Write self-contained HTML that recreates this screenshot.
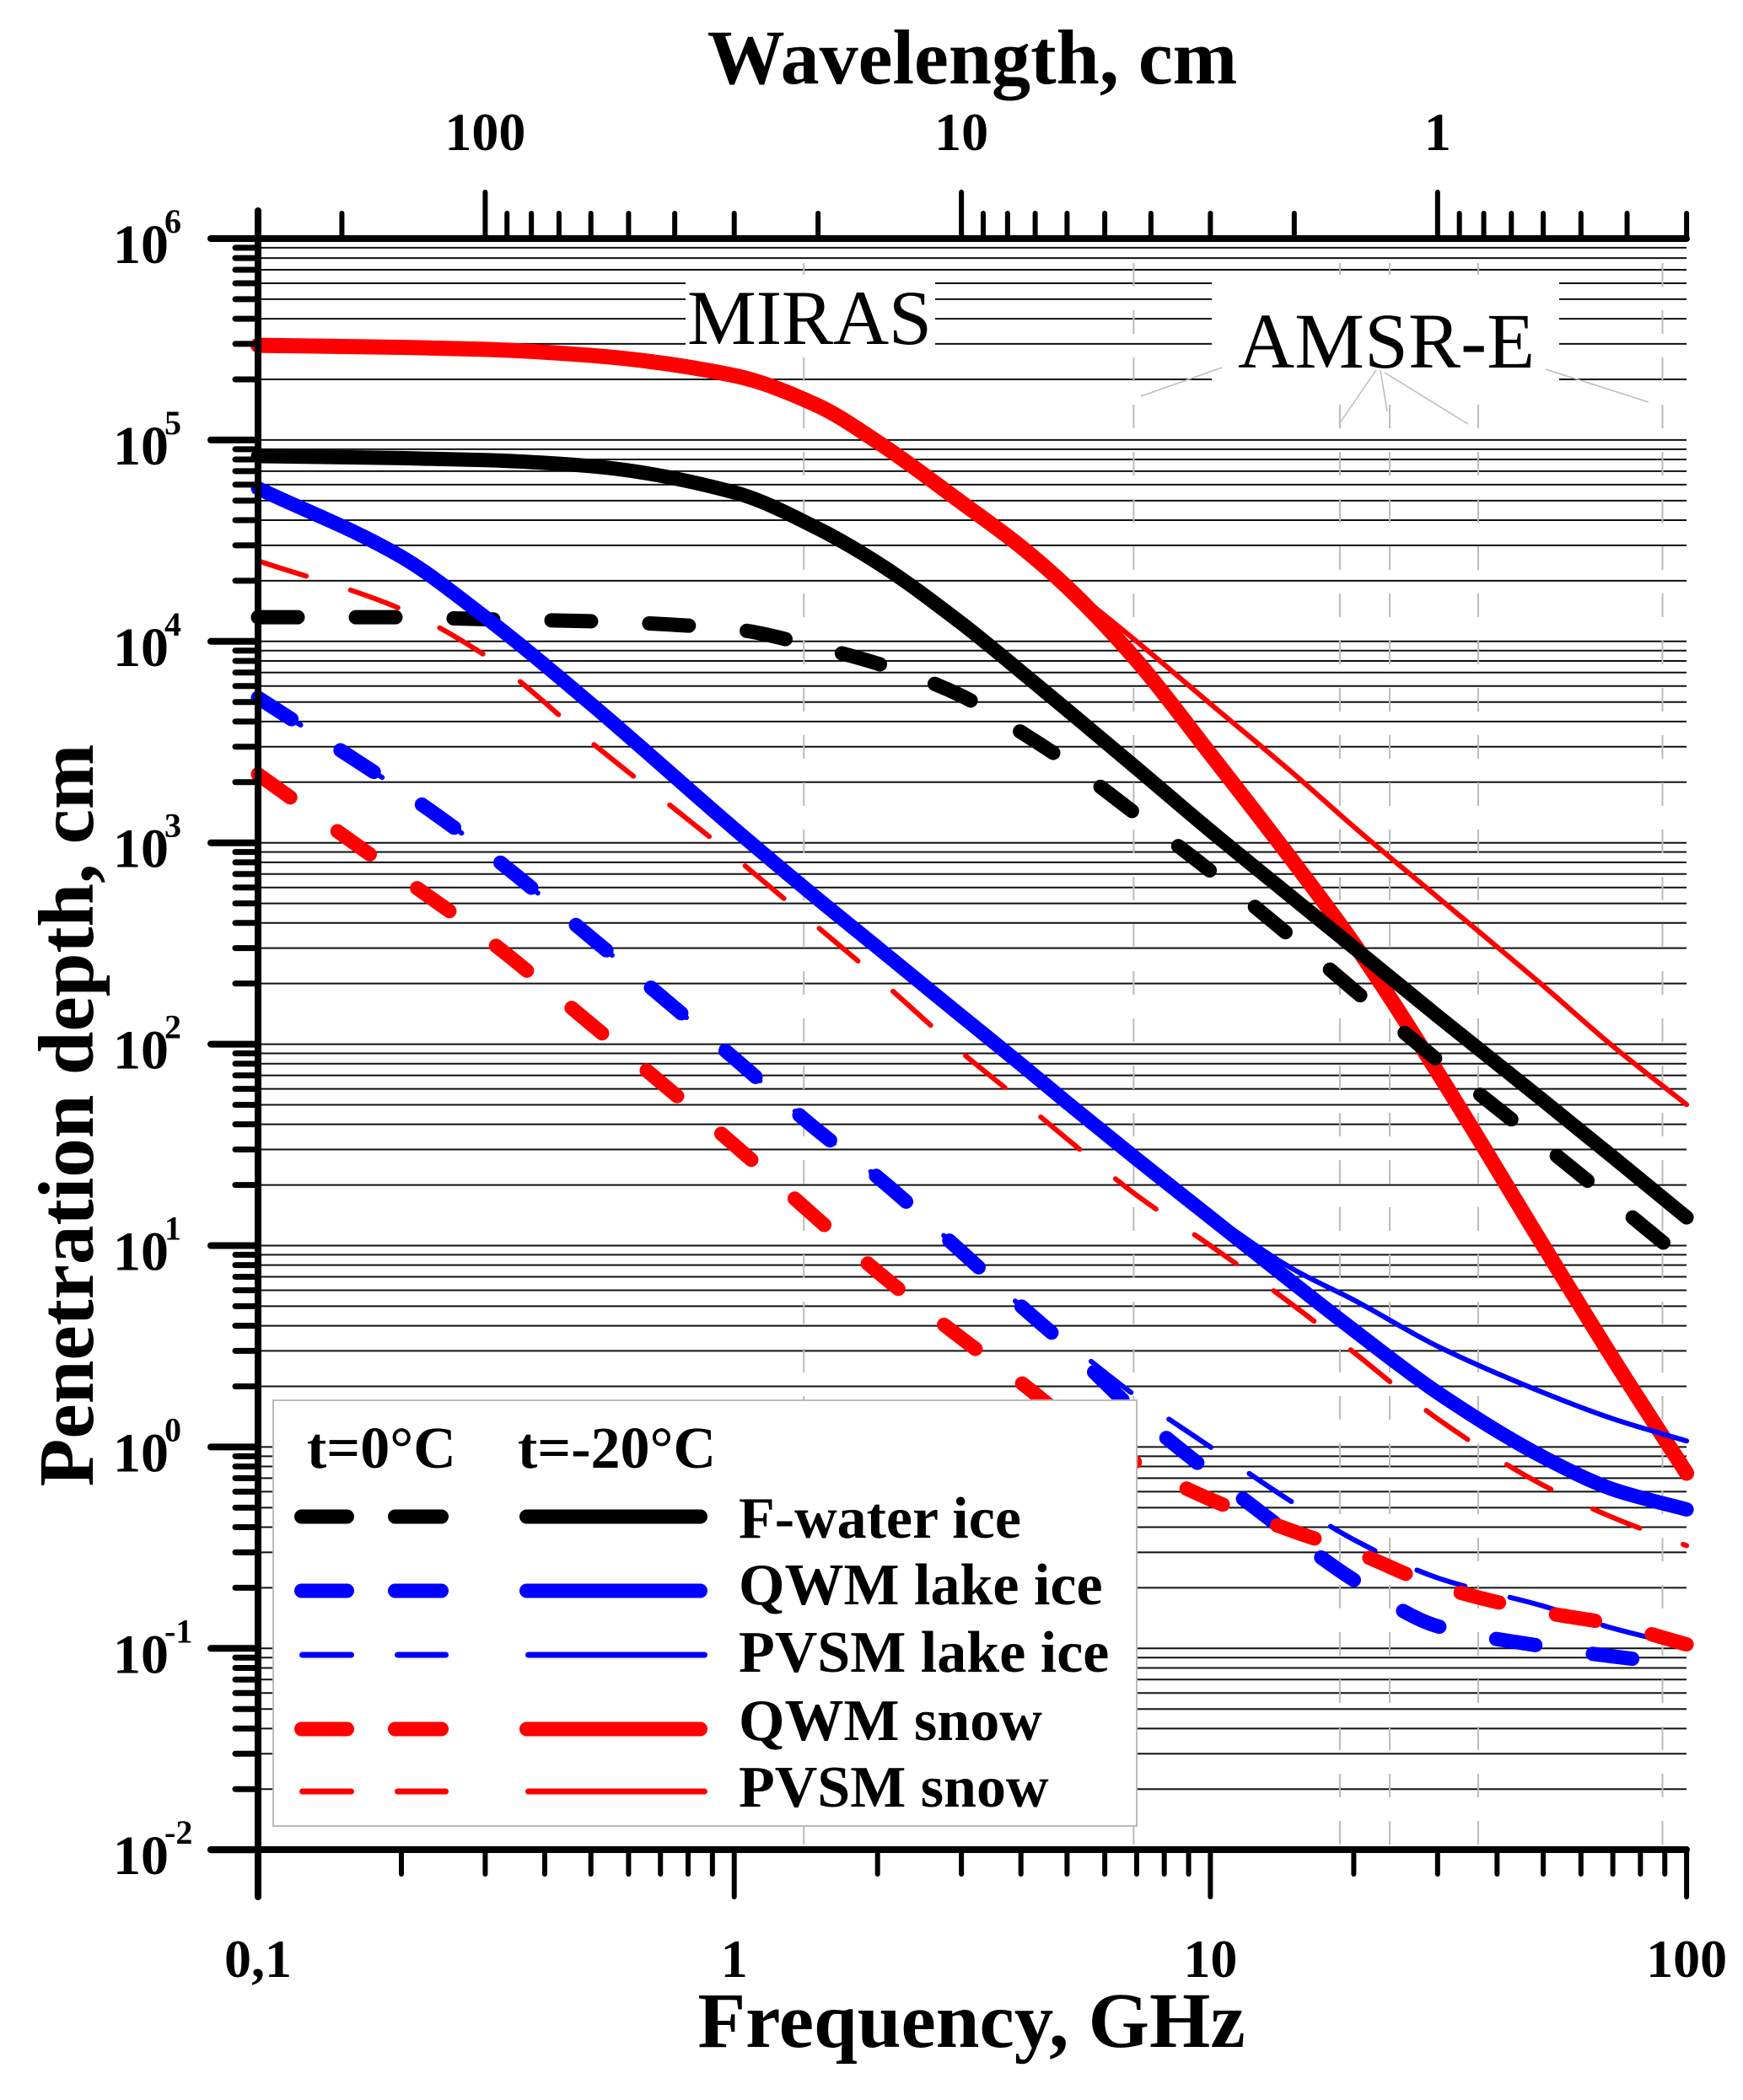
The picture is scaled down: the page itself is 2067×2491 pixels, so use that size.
<!DOCTYPE html>
<html><head><meta charset="utf-8"><style>
html,body{margin:0;padding:0;background:#fff;}
svg{display:block;}
text{font-family:"Liberation Serif","Times New Roman",serif;}
</style></head><body>
<svg id="chart" xmlns="http://www.w3.org/2000/svg" width="2067" height="2491" viewBox="0 0 2067 2491">
<g id="grid"></g>
<g id="series"></g>
<g id="axes"></g>
<g id="labels"></g>
</svg>
<script>
// ---- data (frequency GHz, penetration depth as log10 cm) ----
const freqs = [0.1,0.2,0.3,0.5,1,1.5,2,3,4,5,7,10,15,20,30,50,70,100];
const fwaterIce20 = [4.92,4.91,4.90,4.87,4.74,4.56,4.39,4.09,3.85,3.66,3.37,3.06,2.72,2.48,2.14,1.72,1.44,1.14];
const fwaterIce0  = [4.12,4.12,4.11,4.10,4.06,3.97,3.89,3.73,3.55,3.40,3.14,2.86,2.52,2.27,1.92,1.50,1.22,0.92];
const qwmLake20   = [4.76,4.42,4.12,3.69,3.07,2.72,2.48,2.14,1.90,1.71,1.43,1.14,0.81,0.58,0.27,-0.05,-0.21,-0.31];
const pvsmLake20  = [4.76,4.42,4.12,3.69,3.07,2.72,2.48,2.14,1.90,1.71,1.43,1.16,0.88,0.73,0.50,0.27,0.14,0.03];
const qwmSnow20   = [5.47,5.46,5.45,5.42,5.32,5.17,4.99,4.69,4.47,4.27,3.905,3.44,2.90,2.50,1.86,1.00,0.44,-0.13];
const pvsmSnow20  = [5.47,5.46,5.45,5.42,5.32,5.17,4.99,4.69,4.47,4.28,4.00,3.69,3.34,3.08,2.73,2.29,1.99,1.70];
const qwmLake0    = [3.72,3.26,2.96,2.53,1.93,1.57,1.34,0.97,0.70,0.50,0.17,-0.13,-0.45,-0.66,-0.89,-0.99,-1.04,-1.08];
const pvsmLake0   = [3.72,3.26,2.96,2.53,1.93,1.57,1.34,0.97,0.70,0.52,0.25,0.00,-0.28,-0.46,-0.65,-0.79,-0.90,-0.99];
const qwmSnow0    = [3.34,2.83,2.53,2.10,1.50,1.13,0.87,0.54,0.32,0.14,-0.08,-0.26,-0.42,-0.52,-0.69,-0.82,-0.88,-0.98];
const pvsmSnow0   = [4.40,4.16,3.93,3.50,2.93,2.58,2.33,1.96,1.72,1.53,1.25,1.00,0.70,0.47,0.14,-0.19,-0.35,-0.49];
const xTickMajors = [0.1,1,10,100];
const xTickLabels = ["0,1","1","10","100"];
const yDecades = [6,5,4,3,2,1,0,-1,-2];
const topMajors = [100,10,1];
const topLabels = ["100","10","1"];
const mirasFreq = [1.4];
const amsrFreqs = [6.9,18.7,23.8,36.5,89];

// ---- axis functions ----
const X0=306, XD=564.7, YTOP=283, YD=238.9;
const xs = f => X0 + (Math.log10(f)+1)*XD;
const ys = l => YTOP + (6-l)*YD;
const NS="http://www.w3.org/2000/svg";
function mk(tag,attrs,parent){const e=document.createElementNS(NS,tag);for(const k in attrs)e.setAttribute(k,attrs[k]);parent.appendChild(e);return e;}
const grid=document.getElementById('grid'),series=document.getElementById('series'),axes=document.getElementById('axes'),labels=document.getElementById('labels');

// horizontal gridlines
for(let d=-2; d<6; d++){
  for(let m=1;m<=9;m++){
    const y=ys(d+Math.log10(m));
    const l=mk('line',{x1:X0,x2:2000,y1:y,y2:y,stroke:'#111','stroke-width':2},grid);
    
    
    const t=mk('line',{x1:m===1?250:279,x2:X0,y1:y,y2:y,stroke:'#000','stroke-width':m===1?8:7,'stroke-linecap':'round'},axes);
    
    
  }
}
// vertical dashed lines
[...mirasFreq,...amsrFreqs].forEach(f=>{
  const l=mk('line',{x1:xs(f),x2:xs(f),y1:312,y2:2194,stroke:'#bbb','stroke-width':2,'stroke-dasharray':'28 28'},grid);
  
  
});
// label boxes
mk('rect',{x:813,y:326,width:296,height:88,fill:'#fff'},grid);
mk('rect',{x:1437,y:326,width:412,height:132,fill:'#fff'},grid);
const mir=mk('text',{x:815,y:408,'font-size':92,fill:'#000',textLength:290},grid);mir.textContent='MIRAS';


const ams=mk('text',{x:1468,y:436,'font-size':93,fill:'#000',textLength:352},grid);ams.textContent='AMSR-E';


[[1449,436,1353,470],[1632,439,1588,503],[1637,439,1645,488],[1642,442,1741,503],[1833,438,1955,477]].forEach(c=>{
  mk('line',{x1:c[0],y1:c[1],x2:c[2],y2:c[3],stroke:'#bbb','stroke-width':1.5},grid);
});

// series: monotone cubic (Fritsch-Carlson) through data points
function pathFor(vals){
  const X=freqs.map(xs), Y=vals.map(ys), n=X.length;
  const dl=[], m=[];
  for(let i=0;i<n-1;i++) dl.push((Y[i+1]-Y[i])/(X[i+1]-X[i]));
  m[0]=dl[0]; m[n-1]=dl[n-2];
  for(let i=1;i<n-1;i++){
    if(dl[i-1]*dl[i]<=0) m[i]=0;
    else { const h0=X[i]-X[i-1], h1=X[i+1]-X[i];
      const w1=2*h1+h0, w2=h1+2*h0;
      m[i]=(w1+w2)/(w1/dl[i-1]+w2/dl[i]); }
  }
  let d=`M${X[0]},${Y[0]}`;
  for(let i=0;i<n-1;i++){
    const h=(X[i+1]-X[i])/3;
    d+=` C${X[i]+h},${Y[i]+m[i]*h} ${X[i+1]-h},${Y[i+1]-m[i+1]*h} ${X[i+1]},${Y[i+1]}`;
  }
  return d;
}
const defs=[
 ['pvsm-snow-minus20',pvsmSnow20,'#f00',6,null],
 ['qwm-snow-minus20',qwmSnow20,'#f00',18,null],
 ['fwater-ice-minus20',fwaterIce20,'#000',17,null],
 ['fwater-ice-0',fwaterIce0,'#000',17,'47 69'],
 ['pvsm-lake-minus20',pvsmLake20,'#00f',6,null],
 ['qwm-lake-minus20',qwmLake20,'#00f',17,null],
 ['pvsm-snow-0',pvsmSnow0,'#f00',6,'60 55'],
 ['pvsm-lake-0',pvsmLake0,'#00f',6,'60 55'],
 ['qwm-lake-0',qwmLake0,'#00f',17,'47 69'],
 ['qwm-snow-0',qwmSnow0,'#f00',17,'47 69'],
];
defs.forEach(s=>{
  const a={d:pathFor(s[1]),fill:'none',stroke:s[2],'stroke-width':s[3],'stroke-linecap':'round','stroke-linejoin':'round'};
  if(s[4])a['stroke-dasharray']=s[4];
  const e=mk('path',a,series);
  
  
});

// axes lines
mk('line',{x1:X0,x2:X0,y1:250,y2:2250,stroke:'#000','stroke-width':8,'stroke-linecap':'round'},axes);
mk('line',{x1:250,x2:2000,y1:2194,y2:2194,stroke:'#000','stroke-width':8,'stroke-linecap':'round'},axes);
mk('line',{x1:250,x2:2000,y1:283,y2:283,stroke:'#000','stroke-width':8,'stroke-linecap':'round'},axes);
// bottom ticks
for(let d=-1;d<2;d++){for(let m=1;m<=9;m++){const x=xs(Math.pow(10,d)*m);
  const t=mk('line',{x1:x,x2:x,y1:2194,y2:m===1?2250:2223,stroke:'#000','stroke-width':6,'stroke-linecap':'round'},axes);
  
  }}
mk('line',{x1:xs(100),x2:xs(100),y1:2194,y2:2250,stroke:'#000','stroke-width':6,'stroke-linecap':'round'},axes);
// top ticks (wavelength cm = 30/f)
for(let d=-1;d<3;d++){for(let m=1;m<=9;m++){const lam=Math.pow(10,d)*m;const f=30/lam;if(f<0.1||f>100.01)continue;
  const x=xs(f);
  const t=mk('line',{x1:x,x2:x,y1:283,y2:m===1?228:253,stroke:'#000','stroke-width':6,'stroke-linecap':'round'},axes);
  
  }}

// tick labels
xTickMajors.forEach((f,i)=>{const t=mk('text',{x:xs(f),y:2345,'font-size':64,'font-weight':'bold','text-anchor':'middle'},labels);t.textContent=xTickLabels[i];
  
  });
topMajors.forEach((lam,i)=>{const t=mk('text',{x:xs(30/lam),y:178,'font-size':64,'font-weight':'bold','text-anchor':'middle'},labels);t.textContent=topLabels[i];
  
  });
yDecades.forEach(d=>{const y=ys(d);
  const t=mk('text',{x:134,y:y+29,'font-size':66,'font-weight':'bold'},labels);t.textContent='10';
  
  
  const s=mk('text',{x:195,y:y-7,'font-size':40,'font-weight':'bold'},labels);s.textContent=String(d);
});

// axis titles
const tt=mk('text',{x:1153,y:99,'font-size':92,'font-weight':'bold','text-anchor':'middle'},labels);tt.textContent='Wavelength, cm';


const bt=mk('text',{x:1152,y:2428,'font-size':93,'font-weight':'bold','text-anchor':'middle'},labels);bt.textContent='Frequency, GHz';


const lt=mk('text',{x:0,y:0,'font-size':93,'font-weight':'bold','text-anchor':'middle',transform:'translate(110,1323) rotate(-90)'},labels);lt.textContent='Penetration depth, cm';



// legend
const lg=mk('g',{},labels);


mk('rect',{x:324,y:1661,width:1024,height:505,fill:'#fff',stroke:'#bbb','stroke-width':2},lg);
const h1=mk('text',{x:364,y:1741,'font-size':70,'font-weight':'bold'},lg);h1.textContent='t=0°C';
const h2=mk('text',{x:614,y:1741,'font-size':70,'font-weight':'bold'},lg);h2.textContent='t=-20°C';
const legNames=['F-water ice','QWM lake ice','PVSM lake ice','QWM snow','PVSM snow'];
const legCols=['#000','#00f','#00f','#f00','#f00'];
const legW=[17,17,7,17,7];
const legY=[1799,1887,1963,2051,2125];
const legTY=[1824,1903,1983,2064,2143];
legNames.forEach((n,i)=>{
  const thick=legW[i]>10;
  const a=thick?[349,420]:[355,420], b=thick?[460,532]:[468,532], c=thick?[616,839]:[623,839];
  [a,b,c].forEach(s=>mk('line',{x1:s[0]+legW[i]/2,x2:s[1]-legW[i]/2,y1:legY[i],y2:legY[i],stroke:legCols[i],'stroke-width':legW[i],'stroke-linecap':'round'},lg));
  const t=mk('text',{x:876,y:legTY[i],'font-size':70,'font-weight':'bold'},lg);t.textContent=n;
  
  
});
</script>
</body></html>
